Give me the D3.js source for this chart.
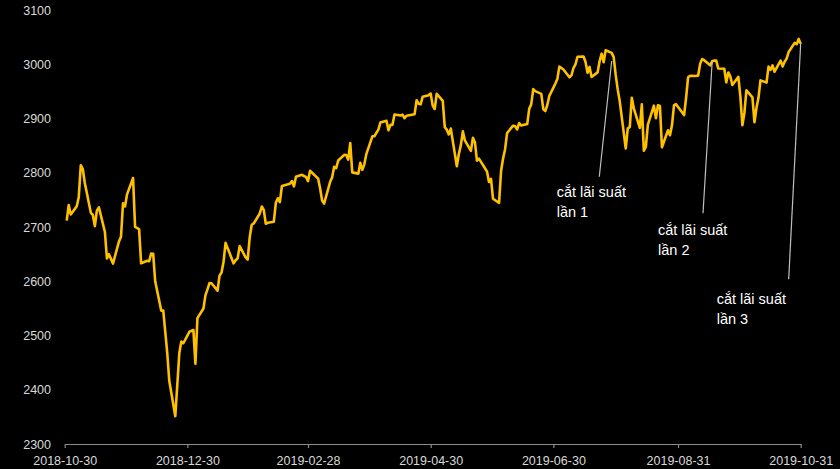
<!DOCTYPE html>
<html>
<head>
<meta charset="utf-8">
<script src="https://cdn.jsdelivr.net/npm/d3@7"></script>
<style>
  html, body { margin: 0; padding: 0; background: #000; }
  svg { display: block; }
  text { font-family: "Liberation Sans", Arial, sans-serif; }
</style>
</head>
<body>
<svg id="chart" width="840" height="469"></svg>
<script>
// ---- DATA ----
const dates = [
"2018-10-31",
"2018-11-01","2018-11-02","2018-11-05","2018-11-06","2018-11-07","2018-11-08","2018-11-09","2018-11-12","2018-11-13","2018-11-14","2018-11-15","2018-11-16","2018-11-19","2018-11-20","2018-11-21","2018-11-23","2018-11-26","2018-11-27","2018-11-28","2018-11-29","2018-11-30",
"2018-12-03","2018-12-04","2018-12-06","2018-12-07","2018-12-10","2018-12-11","2018-12-12","2018-12-13","2018-12-14","2018-12-17","2018-12-18","2018-12-19","2018-12-20","2018-12-21","2018-12-24","2018-12-26","2018-12-27","2018-12-28","2018-12-31",
"2019-01-02","2019-01-03","2019-01-04","2019-01-07","2019-01-08","2019-01-09","2019-01-10","2019-01-11","2019-01-14","2019-01-15","2019-01-16","2019-01-17","2019-01-18","2019-01-22","2019-01-23","2019-01-24","2019-01-25","2019-01-28","2019-01-29","2019-01-30","2019-01-31",
"2019-02-01","2019-02-04","2019-02-05","2019-02-06","2019-02-07","2019-02-08","2019-02-11","2019-02-12","2019-02-13","2019-02-14","2019-02-15","2019-02-19","2019-02-20","2019-02-21","2019-02-22","2019-02-25","2019-02-26","2019-02-27","2019-02-28",
"2019-03-01","2019-03-04","2019-03-05","2019-03-06","2019-03-07","2019-03-08","2019-03-11","2019-03-12","2019-03-13","2019-03-14","2019-03-15","2019-03-18","2019-03-19","2019-03-20","2019-03-21","2019-03-22","2019-03-25","2019-03-26","2019-03-27","2019-03-28","2019-03-29",
"2019-04-01","2019-04-02","2019-04-03","2019-04-04","2019-04-05","2019-04-08","2019-04-09","2019-04-10","2019-04-11","2019-04-12","2019-04-15","2019-04-16","2019-04-17","2019-04-18","2019-04-22","2019-04-23","2019-04-24","2019-04-25","2019-04-26","2019-04-29","2019-04-30",
"2019-05-01","2019-05-02","2019-05-03","2019-05-06","2019-05-07","2019-05-08","2019-05-09","2019-05-10","2019-05-13","2019-05-14","2019-05-15","2019-05-16","2019-05-17","2019-05-20","2019-05-21","2019-05-22","2019-05-23","2019-05-24","2019-05-28","2019-05-29","2019-05-30","2019-05-31",
"2019-06-03","2019-06-04","2019-06-05","2019-06-06","2019-06-07","2019-06-10","2019-06-11","2019-06-12","2019-06-13","2019-06-14","2019-06-17","2019-06-18","2019-06-19","2019-06-20","2019-06-21","2019-06-24","2019-06-25","2019-06-26","2019-06-27","2019-06-28",
"2019-07-01","2019-07-02","2019-07-03","2019-07-05","2019-07-08","2019-07-09","2019-07-10","2019-07-11","2019-07-12","2019-07-15","2019-07-16","2019-07-17","2019-07-18","2019-07-19","2019-07-22","2019-07-23","2019-07-24","2019-07-25","2019-07-26","2019-07-29","2019-07-30","2019-07-31",
"2019-08-01","2019-08-02","2019-08-05","2019-08-06","2019-08-07","2019-08-08","2019-08-09","2019-08-12","2019-08-13","2019-08-14","2019-08-15","2019-08-16","2019-08-19","2019-08-20","2019-08-21","2019-08-22","2019-08-23","2019-08-26","2019-08-27","2019-08-28","2019-08-29","2019-08-30",
"2019-09-03","2019-09-04","2019-09-05","2019-09-06","2019-09-09","2019-09-10","2019-09-11","2019-09-12","2019-09-13","2019-09-16","2019-09-17","2019-09-18","2019-09-19","2019-09-20","2019-09-23","2019-09-24","2019-09-25","2019-09-26","2019-09-27","2019-09-30",
"2019-10-01","2019-10-02","2019-10-03","2019-10-04","2019-10-07","2019-10-08","2019-10-09","2019-10-10","2019-10-11","2019-10-14","2019-10-15","2019-10-16","2019-10-17","2019-10-18","2019-10-21","2019-10-22","2019-10-23","2019-10-24","2019-10-25","2019-10-28","2019-10-29","2019-10-30","2019-10-31"
];
const closes = [
2711.74,
2740.37,2723.06,2738.31,2755.45,2813.89,2806.83,2781.01,2726.22,2722.18,2701.58,2730.20,2736.27,2690.73,2641.89,2649.93,2632.56,2673.45,2682.17,2743.79,2737.80,2760.17,
2790.37,2700.06,2695.95,2633.08,2637.72,2636.78,2651.07,2650.54,2599.95,2545.94,2546.16,2506.96,2467.42,2416.62,2351.10,2467.70,2488.83,2485.74,2506.85,
2510.03,2447.89,2531.94,2549.69,2574.41,2584.96,2596.64,2596.26,2582.61,2610.30,2616.10,2635.96,2670.71,2632.90,2638.70,2642.33,2664.76,2643.85,2640.00,2681.05,2704.10,
2706.53,2724.87,2737.70,2731.61,2706.05,2707.88,2709.80,2744.73,2753.03,2745.73,2775.60,2779.76,2784.70,2774.88,2792.67,2796.11,2793.90,2792.38,2784.49,
2803.69,2792.81,2789.65,2771.45,2748.93,2743.07,2783.30,2791.52,2810.92,2808.48,2822.48,2832.94,2832.57,2824.23,2854.88,2800.71,2798.36,2818.46,2805.37,2815.44,2834.40,
2867.19,2867.24,2873.40,2879.39,2892.74,2895.77,2878.20,2888.21,2888.32,2907.41,2905.58,2907.06,2900.45,2905.03,2907.97,2933.68,2927.25,2926.17,2939.88,2943.03,2945.83,
2923.73,2917.52,2945.64,2932.47,2884.05,2879.42,2870.72,2881.40,2811.87,2834.41,2850.96,2876.32,2859.53,2840.23,2864.36,2856.27,2822.24,2826.06,2802.39,2783.02,2788.86,2752.06,
2744.45,2803.27,2826.15,2843.49,2873.34,2886.73,2885.72,2879.84,2891.64,2886.98,2889.67,2917.75,2926.46,2954.18,2950.46,2945.35,2917.38,2913.78,2924.92,2941.76,
2964.33,2973.01,2995.82,2990.41,2975.95,2979.63,2993.07,2999.91,3013.77,3014.30,3004.04,2984.42,2995.11,2976.61,2985.03,3005.47,3019.56,3003.67,3025.86,3020.97,3013.18,2980.38,
2953.56,2932.05,2844.74,2881.77,2883.98,2938.09,2918.65,2882.70,2926.32,2840.60,2847.60,2888.68,2923.65,2900.51,2924.43,2922.95,2847.11,2878.38,2869.16,2887.94,2924.58,2926.46,
2906.27,2937.78,2976.00,2978.71,2978.43,2979.39,3000.93,3009.57,3007.39,2997.96,3005.70,3006.73,3006.79,2992.07,2991.78,2966.60,2984.87,2977.62,2961.79,2976.74,
2940.25,2887.61,2910.63,2952.01,2938.79,2893.06,2919.40,2938.13,2970.27,2966.15,2995.68,2989.69,2997.95,2986.20,3006.72,2995.99,3004.52,3010.29,3022.55,3039.42,3036.89,3046.77,3037.56
];
const xTickLabels = ["2018-10-30","2018-12-30","2019-02-28","2019-04-30","2019-06-30","2019-08-31","2019-10-31"];
const yTicks = [2300,2400,2500,2600,2700,2800,2900,3000,3100];
const annoText = [["cắt lãi suất","lần 1"],["cắt lãi suất","lần 2"],["cắt lãi suất","lần 3"]];
const annoDate = ["2019-07-29","2019-09-17","2019-10-31"];
const annoValue = [3006,3006,3039];

// ---- DRAW ----
const parse = d3.timeParse("%Y-%m-%d");
const fmt = d3.timeFormat("%Y-%m-%d");
const data = dates.map((d,i) => ({date: parse(d), value: closes[i]}));

const svg = d3.select("#chart");
svg.append("rect").attr("width",840).attr("height",469).attr("fill","#000");

const x = d3.scaleTime()
  .domain([parse(xTickLabels[0]), parse(xTickLabels[xTickLabels.length-1])])
  .range([64.7, 800.7]);
const y = d3.scaleLinear().domain([2300,3100]).range([444,10]);

// x axis
const gx = svg.append("g").attr("transform","translate(0,444)")
  .call(d3.axisBottom(x).tickValues(xTickLabels.map(parse)).tickFormat(fmt)
    .tickSize(4).tickSizeOuter(0).tickPadding(8));
gx.select(".domain").attr("stroke","#8c8c8c").attr("stroke-width",1.2);
gx.selectAll(".tick line").attr("stroke","#8c8c8c").attr("stroke-width",1.2);
gx.selectAll(".tick text").attr("fill","#d9d9d9").style("font-size","12.5px")
  .style("font-family","'Liberation Sans', Arial, sans-serif");

// y axis (labels only)
const gy = svg.append("g").attr("transform","translate(65,0)")
  .call(d3.axisLeft(y).tickValues(yTicks).tickFormat(d3.format("d")).tickSize(0).tickPadding(14));
gy.select(".domain").remove();
gy.selectAll(".tick text").attr("fill","#d9d9d9").style("font-size","12.5px")
  .style("font-family","'Liberation Sans', Arial, sans-serif");

// line
const line = d3.line().x(d => x(d.date)).y(d => y(d.value));
svg.append("path").datum(data)
  .attr("d", line)
  .attr("fill","none")
  .attr("stroke","#FFC000")
  .attr("stroke-width",2.6)
  .attr("stroke-linejoin","round");

// annotations: leader line from label to the series
const annoLayout = [
  {bx: 599.3, by: 176.7, tx: 556.7, ty: 196.7},
  {bx: 703.0, by: 213.3, tx: 658.0, ty: 235.0},
  {bx: 788.7, by: 279.3, tx: 716.7, ty: 304.3}
];
annoText.forEach((lines, i) => {
  const L = annoLayout[i];
  svg.append("line")
    .attr("x1", L.bx).attr("y1", L.by)
    .attr("x2", x(parse(annoDate[i]))).attr("y2", y(annoValue[i]))
    .attr("stroke","#bfbfbf").attr("stroke-width",1.2);
  const t = svg.append("text").attr("x", L.tx).attr("y", L.ty)
    .attr("fill","#ffffff").style("font-size","14.5px");
  lines.forEach((s, j) => {
    t.append("tspan").attr("x", L.tx).attr("y", L.ty + j*20).text(s);
  });
});
</script>
</body>
</html>
